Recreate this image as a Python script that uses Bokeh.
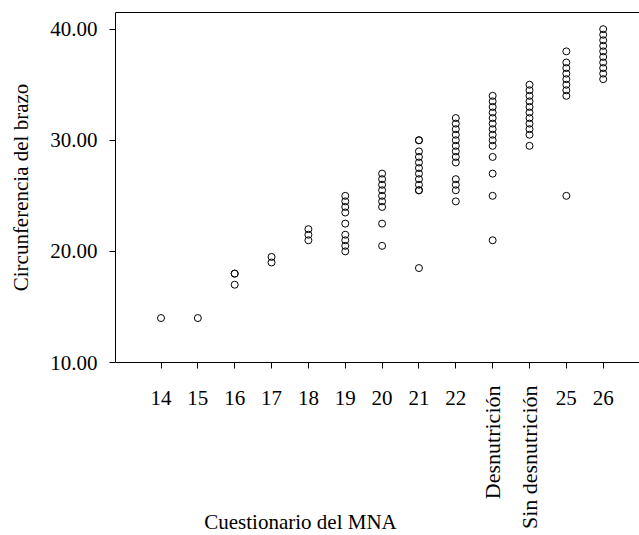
import math
from bokeh.plotting import figure
from bokeh.models import Range1d, FixedTicker, LinearAxis, ColumnDataSource, PrintfTickFormatter
from bokeh.core.properties import value
from bokeh.embed import file_html
from bokeh.resources import INLINE

# ---- data ----
categories = ["14", "15", "16", "17", "18", "19", "20", "21", "22",
              "Desnutrición", "Sin desnutrición", "25", "26"]
tick_labels = ["14", "15", "16", "17", "18", "19", "20", "21", "22", "", "", "25", "26"]
rotated_labels = ["Desnutrición", "Sin desnutrición"]
y_ticks = [10, 20, 30, 40]
x_title = "Cuestionario del MNA"
y_title = "Circunferencia del brazo"

mna_14 = [14.0]
mna_15 = [14.0]
mna_16 = [18.0, 18.0, 17.0]
mna_17 = [19.5, 19.0]
mna_18 = [22.0, 21.5, 21.0]
mna_19 = [25.0, 24.5, 24.0, 23.5, 22.5, 21.5, 21.0, 20.5, 20.0]
mna_20 = [27.0, 26.5, 26.0, 25.5, 25.0, 24.5, 24.0, 22.5, 20.5]
mna_21 = [30.0, 30.0, 29.0, 28.5, 28.0, 27.5, 27.0, 26.5, 26.0, 25.5, 25.5, 18.5]
mna_22 = [32.0, 31.5, 31.0, 30.5, 30.0, 29.5, 29.0, 28.5, 28.0, 26.5, 26.0, 25.5, 24.5]
mna_desn = [34.0, 33.5, 33.0, 32.5, 32.0, 31.5, 31.0, 30.5, 30.0, 29.5, 28.5, 27.0, 25.0, 21.0]
mna_sin = [35.0, 34.5, 34.0, 33.5, 33.0, 32.5, 32.0, 31.5, 31.0, 30.5, 29.5]
mna_25 = [38.0, 37.0, 36.5, 36.0, 35.5, 35.0, 34.5, 34.0, 25.0]
mna_26 = [40.0, 39.5, 39.0, 38.5, 38.0, 37.5, 37.0, 36.5, 36.0, 35.5]

series = [mna_14, mna_15, mna_16, mna_17, mna_18, mna_19, mna_20, mna_21,
          mna_22, mna_desn, mna_sin, mna_25, mna_26]

xs, ys = [], []
for i, vals in enumerate(series):
    xs += [i] * len(vals)
    ys += vals
source = ColumnDataSource(data=dict(x=xs, y=ys))

FONT = "Liberation Serif"
FS = "21px"

# ---- layout geometry (frame covers the whole canvas) ----
W, H = 639, 535
AXIS_LEFT_PX, TOP_PX, AXIS_PX = 115, 12, 362
FIRST_CAT_PX, CAT_STEP_PX = 160.5, 36.85
Y_LOW, Y_HIGH = 10, 41.5
PX_PER_Y = (AXIS_PX - TOP_PX) / (Y_HIGH - Y_LOW)


def x_at_px(px):
    return (px - FIRST_CAT_PX) / CAT_STEP_PX


def y_at_px(py):
    return Y_LOW - (py - AXIS_PX) / PX_PER_Y


x_start, x_end = x_at_px(0), x_at_px(W)
y_start, y_end = y_at_px(H), y_at_px(0)
x_axis_pos = x_at_px(AXIS_LEFT_PX)

p = figure(width=W, height=H, output_backend="svg", toolbar_location=None,
           x_range=Range1d(x_start, x_end), y_range=Range1d(y_start, y_end),
           min_border=0, x_axis_location=None, y_axis_location=None)
p.grid.visible = False
p.outline_line_color = None
p.background_fill_color = "white"
p.border_fill_color = "white"

p.scatter("x", "y", source=source, marker="circle", size=7,
          fill_color=None, line_color="black", line_width=1)

# bottom axis at y = 10
xa = LinearAxis(ticker=FixedTicker(ticks=list(range(len(categories)))),
                major_label_overrides={i: t for i, t in enumerate(tick_labels)},
                fixed_location=Y_LOW, bounds=(x_axis_pos, x_end))
xa.major_tick_out = 6
xa.major_tick_in = 0
xa.minor_tick_line_color = None
xa.major_label_standoff = 22
xa.major_label_text_font = FONT
xa.major_label_text_font_size = FS
xa.major_label_text_color = "black"
xa.axis_line_color = "black"
xa.major_tick_line_color = "black"
p.add_layout(xa, "below")

# left axis
ya = LinearAxis(ticker=FixedTicker(ticks=y_ticks),
                formatter=PrintfTickFormatter(format="%.2f"),
                fixed_location=x_axis_pos, bounds=(Y_LOW, Y_HIGH))
ya.major_tick_out = 6
ya.major_tick_in = 0
ya.minor_tick_line_color = None
ya.major_label_standoff = 12
ya.major_label_text_font = FONT
ya.major_label_text_font_size = FS
ya.major_label_text_color = "black"
ya.axis_line_color = "black"
ya.major_tick_line_color = "black"
p.add_layout(ya, "left")

# top frame line
ta = LinearAxis(ticker=FixedTicker(ticks=[]), major_label_text_font_size="0px",
                major_tick_line_color=None, minor_tick_line_color=None,
                axis_line_color="black", fixed_location=Y_HIGH,
                bounds=(x_axis_pos, x_end))
p.add_layout(ta, "above")

# y axis title
yt_src = ColumnDataSource(data=dict(x=[x_at_px(20)], y=[(Y_LOW + Y_HIGH) / 2], text=[y_title]))
p.text("x", "y", text="text", source=yt_src, angle=math.pi / 2,
       text_align="center", text_baseline="middle",
       text_font=value(FONT), text_font_size=value(FS), text_color="black")

# rotated category labels (vertical, reading upward)
rot_src = ColumnDataSource(data=dict(
    x=[categories.index(t) for t in rotated_labels],
    y=[y_at_px(385)] * len(rotated_labels),
    text=rotated_labels))
p.text("x", "y", text="text", source=rot_src, angle=math.pi / 2,
       text_align="right", text_baseline="middle",
       text_font=value(FONT), text_font_size=value("22px"), text_color="black")

# x axis title
xt_src = ColumnDataSource(data=dict(x=[x_at_px(300)], y=[y_at_px(521)], text=[x_title]))
p.text("x", "y", text="text", source=xt_src, text_align="center",
       text_baseline="middle", text_font=value(FONT),
       text_font_size=value(FS), text_color="black")

open("out.html", "w").write(file_html(p, INLINE))
